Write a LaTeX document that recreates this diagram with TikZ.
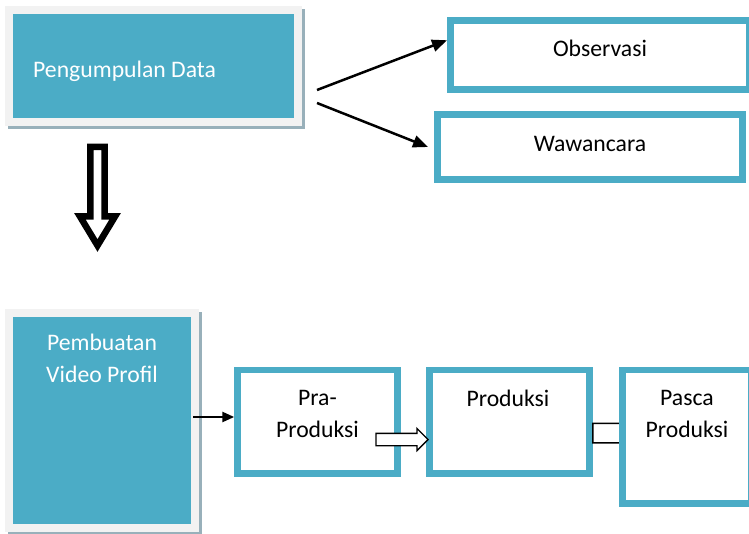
\documentclass[tikz,border=0pt]{standalone}
\usepackage{fontspec}
\setmainfont{Carlito}
\usetikzlibrary{arrows.meta,shapes.arrows}

\begin{document}
\begin{tikzpicture}[x=1pt,y=-1pt,
    filledbox/.style={draw=framegray, fill=boxteal, line width=8pt,
        preaction={draw=shadowgray, fill=shadowgray,
            transform canvas={xshift=3pt,yshift=-3pt}}},
    outlinebox/.style={draw=boxteal, fill=white, line width=7pt},
    boxtext/.style={font=\fontsize{23.7}{31.5}\selectfont, inner sep=0pt, align=center},
    thinarrow/.style={line width=2.5pt, -{Triangle[length=15pt,width=12pt]}},
    hollowarrow/.style={single arrow, draw=black, fill=white, inner xsep=0pt,
        single arrow head extend=#1}]
    % Define colors
    \definecolor{boxteal}{RGB}{75,172,198}
    \definecolor{framegray}{RGB}{242,242,242}
    \definecolor{shadowgray}{RGB}{152,176,186}

    \useasboundingbox (0,0) rectangle (749,534);

    % Top row: data collection and its two methods
    \node[filledbox, minimum width=289pt, minimum height=112pt] (pengumpulan) at (153.5,66) {};
    \node[boxtext, text=white, anchor=base west] (pengumpulanText) at (33,78) {Pengumpulan Data};

    \node[outlinebox, minimum width=299pt, minimum height=68.5pt] (observasi) at (600,55.25) {};
    \node[boxtext, anchor=base] (observasiText) at (600,57) {Observasi};
    \node[outlinebox, minimum width=305pt, minimum height=65pt] (wawancara) at (590,147) {};
    \node[boxtext, anchor=base] (wawancaraText) at (590,152) {Wawancara};

    \coordinate (forkA) at (317,90);
    \coordinate (forkB) at (317,103);
    \draw[thinarrow] (forkA) -- ([yshift=15pt]observasi.west);
    \draw[thinarrow] (forkB) -- ([xshift=-6pt]wawancara.west);

    % Big hollow arrow down
    \draw[line width=6.5pt, fill=white] (90.3,147) -- (104.7,147) -- (104.7,216.5)
        -- (115,216.5) -- (97.5,245.5) -- (80,216.5) -- (90.3,216.5) -- cycle;

    % Bottom row: making the video profile
    \node[filledbox, minimum width=185.5pt, minimum height=214.5pt] (pembuatan) at (101.75,420.25) {};
    \node[boxtext, text=white, anchor=base] (pembuatanText) at (102,382) {Pembuatan\\Video Profil};

    \node[outlinebox, line width=6.5pt, minimum width=160pt, minimum height=103.5pt] (pra) at (317.5,421.75) {};
    \node[boxtext, anchor=base] (praText) at (317.5,437) {Pra-\\Produksi};
    \node[outlinebox, line width=6.5pt, minimum width=160.25pt, minimum height=103.5pt] (produksi) at (509.4,421.75) {};
    \node[boxtext, anchor=base] (produksiText) at (508,406) {Produksi};

    \coordinate (videoOut) at (193,417);
    \draw[line width=2.5pt, -{Triangle[length=12pt,width=10pt]}] (videoOut) -- (videoOut -| pra.west);

    % Hollow arrows between the stages
    \node[hollowarrow=5pt, line width=1.3pt, inner ysep=5.5pt, minimum height=52pt] (praToProd) at (399,439.5) {};
    \node[hollowarrow=9pt, line width=1.5pt, inner ysep=9pt, minimum height=47pt] (prodToPasca) at (611.5,433) {};

    \node[outlinebox, line width=6.5pt, minimum width=129pt, minimum height=133.5pt] (pasca) at (687,436.75) {};
    \node[boxtext, anchor=base] (pascaText) at (687,437) {Pasca\\Produksi};
\end{tikzpicture}
\end{document}
